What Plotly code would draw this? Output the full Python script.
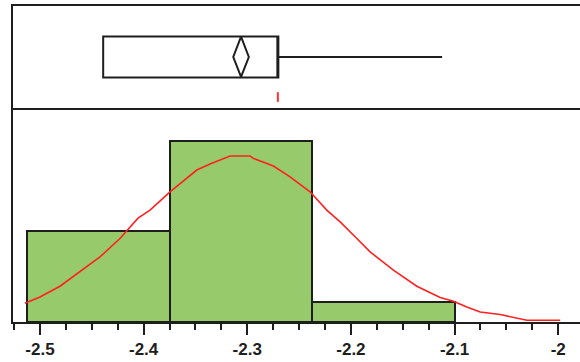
import plotly.graph_objects as go

# histogram: bin edges and counts
bin_edges = [-2.5125, -2.375, -2.2375, -2.1]
counts = [9, 18, 2]

# fitted normal curve
curve_x = [-2.5145, -2.5, -2.4807, -2.4614, -2.4421, -2.4228, -2.4054, -2.3938,
           -2.3745, -2.3487, -2.3359, -2.3166, -2.2973, -2.2941, -2.2748, -2.2587,
           -2.2394, -2.2233, -2.2104, -2.1943, -2.1815, -2.1590, -2.1364, -2.1139,
           -2.1011, -2.0882, -2.0753, -2.0560, -2.0367, -2.0302, -1.9981]
curve_y = [1.86, 2.49, 3.55, 4.97, 6.46, 8.29, 10.31, 11.10,
           12.92, 15.08, 15.68, 16.47, 16.47, 16.24, 15.48, 14.41,
           12.92, 11.10, 9.94, 8.29, 6.96, 5.14, 3.55, 2.43,
           2.06, 1.49, 0.99, 0.74, 0.34, 0.17, 0.17]

# box plot summary
q1 = -2.439
median = -2.27
q3 = -2.27
whisk_lo = -2.439
whisk_hi = -2.112
mean = -2.306
mean_ci = 0.0075
shortest_half = -2.2705

tick_vals = [-2.5, -2.4, -2.3, -2.2, -2.1, -2.0]
tick_text = ["-2.5", "-2.4", "-2.3", "-2.2", "-2.1", "-2"]

ink = "#1e1e1e"
green = "#96ca6a"

centers = [(a + b) / 2 for a, b in zip(bin_edges[:-1], bin_edges[1:])]
widths = [b - a for a, b in zip(bin_edges[:-1], bin_edges[1:])]

fig = go.Figure()

fig.add_trace(go.Bar(
	x=centers, y=counts, width=widths,
	marker=dict(color=green, line=dict(color=ink, width=2)),
	xaxis="x", yaxis="y", showlegend=False, hoverinfo="skip"
))

fig.add_trace(go.Scatter(
	x=curve_x, y=curve_y, mode="lines",
	line=dict(color="#ff2020", width=1.6),
	xaxis="x", yaxis="y", showlegend=False, hoverinfo="skip"
))

fig.add_trace(go.Box(
	y=[0], q1=[q1], median=[median], q3=[q3],
	lowerfence=[whisk_lo], upperfence=[whisk_hi],
	orientation="h", width=0.8, whiskerwidth=0,
	fillcolor="white", line=dict(color=ink, width=2),
	xaxis="x2", yaxis="y2", showlegend=False, hoverinfo="skip"
))

# means diamond
fig.add_trace(go.Scatter(
	x=[mean, mean - mean_ci, mean, mean + mean_ci, mean],
	y=[0.4, 0, -0.39, 0, 0.4], mode="lines",
	line=dict(color=ink, width=2),
	xaxis="x2", yaxis="y2", showlegend=False, hoverinfo="skip"
))

# shortest half bracket
fig.add_trace(go.Scatter(
	x=[shortest_half, shortest_half], y=[-0.69, -0.88], mode="lines",
	line=dict(color="#ff3030", width=2),
	xaxis="x2", yaxis="y2", showlegend=False, hoverinfo="skip"
))

split = 214 / 316
xrange = [-2.526, -1.979]

fig.update_layout(
	width=580, height=362,
	margin=dict(l=13, r=0, t=6, b=40),
	paper_bgcolor="white", plot_bgcolor="white",
	bargap=0,
	xaxis=dict(
		range=xrange, anchor="y", domain=[0, 1],
		showline=True, linecolor=ink, linewidth=2,
		showgrid=False, zeroline=False,
		tickmode="array", tickvals=tick_vals, ticktext=tick_text,
		ticks="outside", ticklen=11, tickwidth=2, tickcolor=ink,
		minor=dict(dtick=0.025, tick0=-2.5, ticks="outside", ticklen=6,
				   tickwidth=2, tickcolor=ink, showgrid=False),
		tickfont=dict(family="Liberation Sans, Arial, sans-serif", size=17,
					  color=ink, weight="bold"),
	),
	yaxis=dict(
		range=[0, 21.24], domain=[0, split], anchor="x",
		showline=True, linecolor=ink, linewidth=2,
		showgrid=False, zeroline=False, showticklabels=False, ticks="",
	),
	xaxis2=dict(
		range=xrange, anchor="y2", matches="x",
		showline=True, mirror=True, linecolor=ink, linewidth=2,
		showgrid=False, zeroline=False, showticklabels=False, ticks="",
	),
	yaxis2=dict(
		range=[-1, 1], domain=[split, 1], anchor="x2",
		showline=True, linecolor=ink, linewidth=2,
		showgrid=False, zeroline=False, showticklabels=False, ticks="",
	),
)

fig.write_html("out.html", config={"displayModeBar": False},
			   post_script="document.body.style.margin='0';")
